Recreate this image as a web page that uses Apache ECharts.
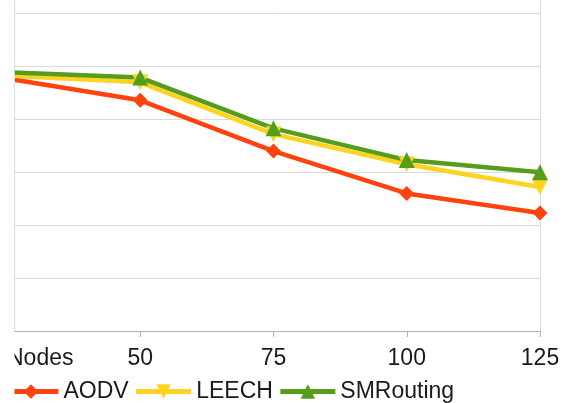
<!DOCTYPE html>
<html>
<head>
<meta charset="utf-8">
<script src="https://cdn.jsdelivr.net/npm/echarts@6/dist/echarts.min.js"></script>
<style>html,body{margin:0;padding:0;background:#fff}#c{width:569px;height:403px}</style>
</head>
<body>
<div id="c"></div>
<script>
var categories = ['Nodes', '50', '75', '100', '125'];
var aodv = [47.7, 43.6, 34.0, 26.0, 22.3];
var leech = [48.3, 47.0, 37.2, 31.5, 27.2];
var smrouting = [48.9, 47.9, 38.3, 32.3, 30.0];

var chart = echarts.init(document.getElementById('c'), null, {renderer: 'canvas'});
var font = 'Liberation Sans';
function mk(name, data, color, symbol, rot, size) {
  return {
    name: name, type: 'line', data: data,
    symbol: symbol, symbolSize: size, symbolRotate: rot,
    showAllSymbol: true,
    lineStyle: {color: color, width: 4.5},
    itemStyle: {color: color},
    z: 3
  };
}
chart.setOption({
  animation: false,
  textStyle: {fontFamily: font},
  grid: {left: 7, right: 29, top: 13.5, bottom: 72},
  xAxis: {
    type: 'category', data: categories, boundaryGap: false,
    axisLine: {lineStyle: {color: '#b3b3b3', width: 1}},
    axisTick: {show: true, length: 6, lineStyle: {color: '#b3b3b3'}},
    axisLabel: {fontSize: 23, color: '#1a1a1a', margin: 16, fontFamily: font, alignMinLabel: 'left'},
    splitLine: {show: false}
  },
  yAxis: {
    type: 'value', min: 0, max: 60, interval: 10,
    axisLine: {show: false}, axisTick: {show: false}, axisLabel: {show: false},
    splitLine: {lineStyle: {color: '#dcdcdc', width: 1}}
  },
  legend: {
    left: -4, top: 375, itemWidth: 55, itemHeight: 18, itemGap: 5,
    lineStyle: {width: 5},
    textStyle: {fontSize: 23, color: '#1a1a1a', fontFamily: font},
    data: ['AODV', 'LEECH', 'SMRouting']
  },
  series: [
    mk('AODV', aodv, '#ff420e', 'path://M0,-1L1,0L0,1L-1,0Z', 0, 15),
    mk('LEECH', leech, '#ffd320', 'triangle', 180, 16),
    mk('SMRouting', smrouting, '#579d1c', 'triangle', 0, 16)
  ],
  graphic: [
    {type: 'rect', shape: {x: 0, y: 0, width: 14.5, height: 403}, style: {fill: '#fff'}, z: 100, zlevel: 1, silent: true},
    {type: 'line', shape: {x1: 14.5, y1: 0, x2: 14.5, y2: 331}, style: {stroke: '#dcdcdc', lineWidth: 1}, z: 101, zlevel: 1, silent: true},
    {type: 'line', shape: {x1: 540.5, y1: 0, x2: 540.5, y2: 331}, style: {stroke: '#dcdcdc', lineWidth: 1}, z: 0, silent: true}
  ]
});
</script>
</body>
</html>
